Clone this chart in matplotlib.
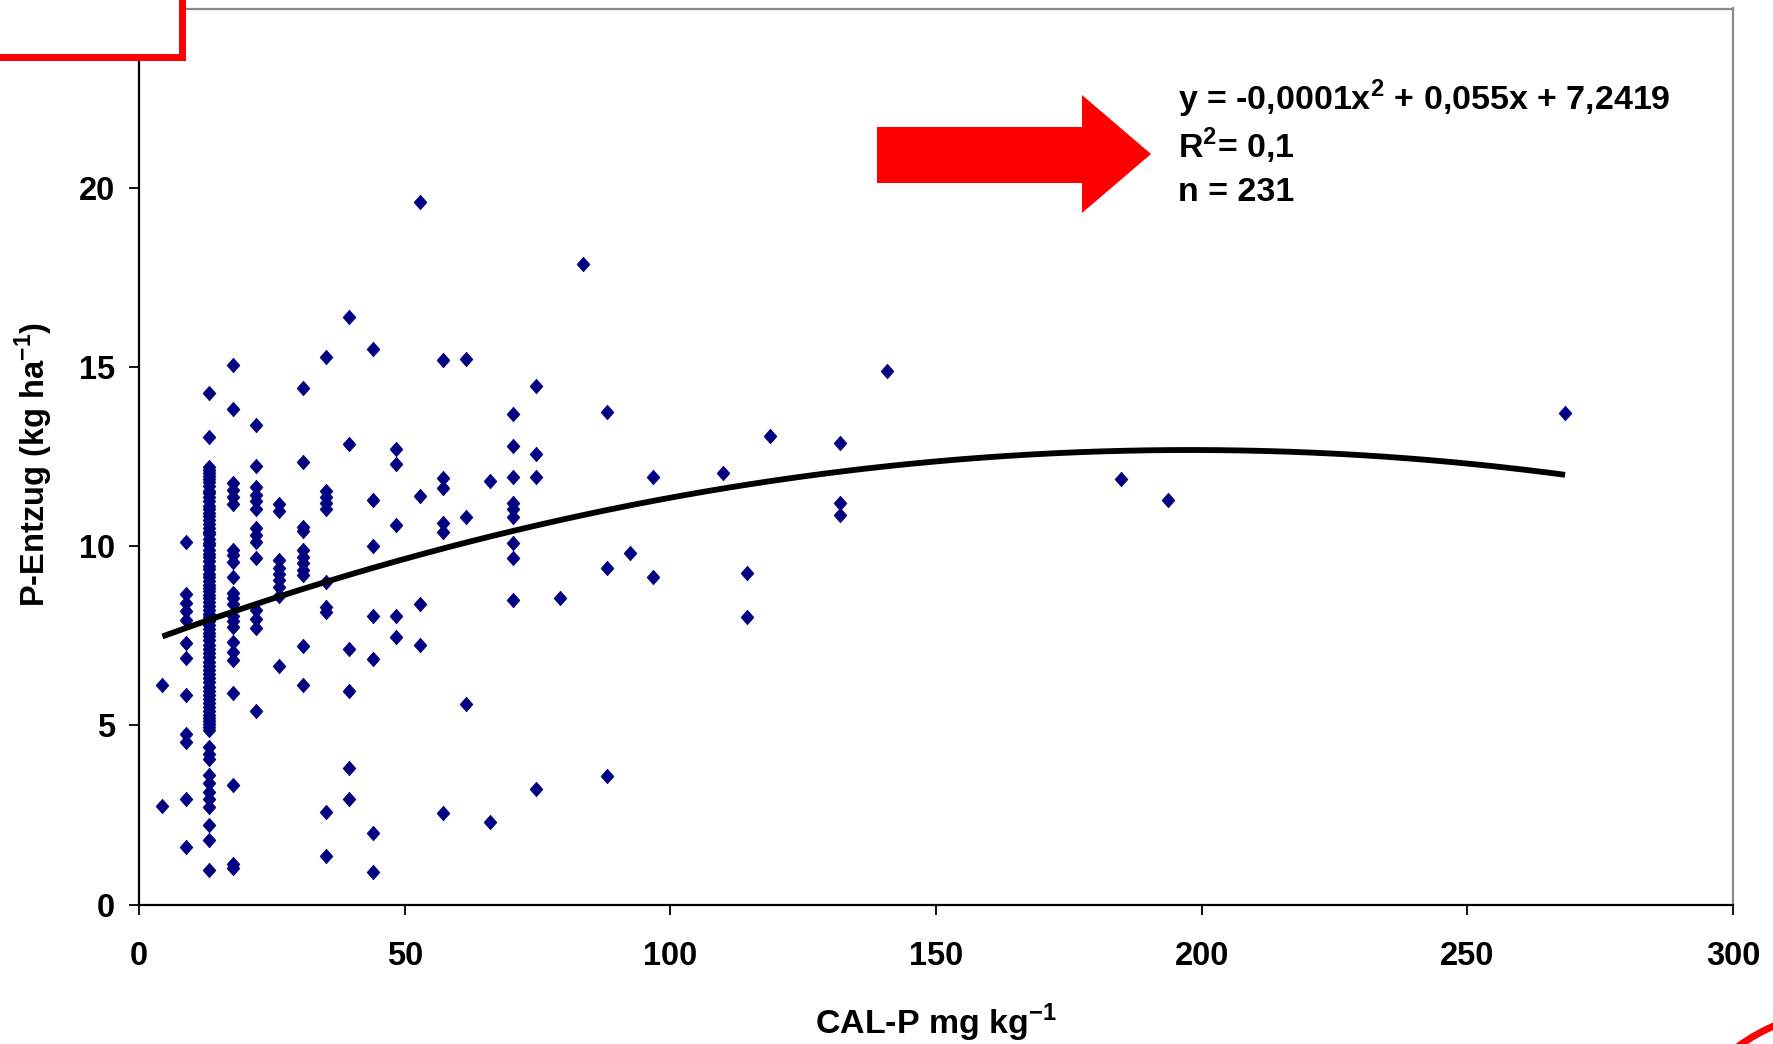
import numpy as np
import matplotlib
matplotlib.use("Agg")
import matplotlib.pyplot as plt
from matplotlib.patches import Polygon, Rectangle, Arc

plt.rcParams['font.family'] = ['Liberation Sans', 'DejaVu Sans']
plt.rcParams['mathtext.fontset'] = 'custom'
plt.rcParams['mathtext.bf'] = 'Liberation Sans:bold'
plt.rcParams['mathtext.rm'] = 'Liberation Sans:bold'

# ---- data -------------------------------------------------------------
# CAL-P classes (mg kg-1) and the P-Entzug values (kg ha-1) observed in each
cal_p_classes = [4.4, 8.8, 13.2, 17.6, 22.0, 26.4, 30.8, 35.2, 39.6, 44.0,
                 48.4, 52.8, 57.2, 61.6, 66.0, 70.4, 74.8, 79.2, 83.6, 88.0,
                 92.4, 96.8, 110.0, 114.4, 118.8, 132.0, 140.8, 184.8, 193.6, 268.4]

p_entzug = [
    [6.14, 2.76],
    [10.12, 8.66, 8.42, 8.2, 7.94, 7.29, 6.87, 5.85, 4.76, 4.54, 2.96, 1.6],
    [14.26, 13.05,
     12.22, 12.12, 12.05, 11.95, 11.86, 11.78, 11.68, 11.55, 11.47, 11.36,
     11.25, 11.12, 11.03, 10.92, 10.85, 10.74, 10.62, 10.51, 10.40, 10.33,
     10.21, 10.10, 10.02, 9.90, 9.78, 9.70, 9.58, 9.45, 9.36, 9.22,
     9.13, 9.02, 8.91, 8.83, 8.74, 8.65, 8.55, 8.44, 8.32, 8.21,
     8.12, 8.03, 7.92, 7.81, 7.70, 7.58, 7.49, 7.37, 7.25, 7.12,
     7.01, 6.90, 6.78, 6.66, 6.55, 6.43, 6.32, 6.20, 6.08, 5.97,
     5.86, 5.74, 5.62, 5.51, 5.40, 5.30, 5.21, 5.12, 5.03, 4.95, 4.87,
     4.4, 4.2, 4.05, 3.61, 3.38, 3.15, 2.96, 2.73, 2.22, 1.8, 0.97],
    [15.05, 13.84, 11.75, 11.57, 11.38, 11.19, 9.89, 9.75, 9.56, 9.15,
     8.68, 8.54, 8.4, 8.05, 7.9, 7.75, 7.33, 7.05, 6.82, 5.91, 3.34, 1.12, 1.03],
    [13.38, 12.23, 11.66, 11.44, 11.25, 11.05, 10.5, 10.3, 10.12, 9.66,
     8.22, 7.98, 7.72, 5.41],
    [11.19, 10.98, 9.6, 9.4, 9.22, 9.05, 8.85, 8.62, 6.66],
    [14.4, 12.35, 10.54, 10.42, 9.89, 9.7, 9.52, 9.33, 9.19, 7.21, 6.14],
    [15.27, 11.55, 11.38, 11.2, 11.03, 9.0, 8.31, 8.15, 2.57, 1.36],
    [16.38, 12.85, 7.12, 5.97, 3.8, 2.96],
    [15.5, 11.3, 10.01, 8.05, 6.84, 1.99, 0.9],
    [12.7, 12.29, 10.6, 8.05, 7.46],
    [19.59, 11.41, 8.38, 7.24],
    [15.19, 11.89, 11.61, 10.64, 10.4, 2.55],
    [15.23, 10.82, 5.61],
    [11.82, 2.3],
    [13.7, 12.8, 11.94, 11.2, 11.05, 10.8, 10.08, 9.66, 8.5],
    [14.47, 12.56, 11.94, 3.22],
    [8.54],
    [17.87],
    [13.73, 9.38, 3.6],
    [9.8],
    [11.94, 9.13],
    [12.05],
    [9.24, 8.01],
    [13.06],
    [12.87, 11.2, 10.88],
    [14.89],
    [11.86],
    [11.29],
    [13.72],
]

# polynomial trend line (2nd order) y = a x^2 + b x + c
trend_a = -0.000139
trend_b = 0.055
trend_c = 7.2419

x_ticks = [0, 50, 100, 150, 200, 250, 300]
y_ticks = [0, 5, 10, 15, 20, 25]
x_label = r"CAL-P mg kg$^{\mathbf{-1}}$"
y_label = r"P-Entzug (kg ha$^{\mathbf{-1}}$)"
eq_lines = [r"y = -0,0001x$^{\mathbf{2}}$ + 0,055x + 7,2419",
            r"R$^{\mathbf{2}}$= 0,1",
            "n = 231"]

# ---- figure -----------------------------------------------------------
W, H = 1773, 1044
fig = plt.figure(figsize=(W / 100, H / 100), dpi=100)
fig.patch.set_facecolor('white')

def fx(px):
    return px / W

def fy(py):
    return 1 - py / H

ax = fig.add_axes([fx(139), fy(904.6), fx(1733) - fx(139), fy(8.5) - fy(904.6)])

xs = np.concatenate([[cx] * len(vals) for cx, vals in zip(cal_p_classes, p_entzug)])
ys = np.concatenate([vals for vals in p_entzug])
diamond = [(0, 1), (0.88, 0), (0, -1), (-0.88, 0), (0, 1)]
ax.plot(xs, ys, linestyle='none', marker=diamond, markersize=10.5,
        markerfacecolor='#000080', markeredgecolor='#000080', markeredgewidth=0.5,
        zorder=3)

xt = np.linspace(min(cal_p_classes), max(cal_p_classes), 300)
ax.plot(xt, trend_a * xt ** 2 + trend_b * xt + trend_c, color='black', lw=4.2,
        solid_capstyle='butt', zorder=4)

ax.set_xlim(0, 300)
ax.set_ylim(0, 25)
ax.set_xticks(x_ticks)
ax.set_yticks(y_ticks)
ax.tick_params(axis='both', direction='out', length=7.5, width=1.3, colors='black',
               labelsize=23.5)
ax.tick_params(axis='x', pad=19)
ax.tick_params(axis='y', pad=10)
for lab in ax.get_xticklabels() + ax.get_yticklabels():
    lab.set_fontweight('bold')

for side in ['left', 'bottom']:
    ax.spines[side].set_color('black')
    ax.spines[side].set_linewidth(1.6)
for side in ['top', 'right']:
    ax.spines[side].set_color('#8a8a8a')
    ax.spines[side].set_linewidth(1.6)

# axis titles
fig.text(fx(936), fy(1023), x_label, ha='center', va='center',
         fontsize=24.5, fontweight='bold')
fig.text(fx(34), fy(464), y_label, ha='center', va='center', rotation=90,
         fontsize=23.5, fontweight='bold')

# equation block
for txt, base in zip(eq_lines, [110, 158, 201]):
    fig.text(fx(1178), fy(base), txt, ha='left', va='baseline',
             fontsize=24.5, fontweight='bold')

# red arrow
arrow_px = [(877, 127), (1082, 127), (1082, 95), (1151, 154),
            (1082, 213), (1082, 183), (877, 183)]
fig.patches.append(Polygon([(fx(a), fy(b)) for a, b in arrow_px], closed=True,
                           facecolor='#ff0000', edgecolor='none',
                           transform=fig.transFigure, zorder=10))

# red framed box in top-left corner
fig.patches.append(Rectangle((fx(-20), fy(56.5)), fx(181.5) - fx(-20), fy(-20) - fy(56.5),
                             facecolor='white', edgecolor='#ff0000', linewidth=5,
                             transform=fig.transFigure, zorder=10))

# red arc fragment in bottom-right corner
fig.patches.append(Arc((fx(1850), fy(1200)), 2 * 190 / W, 2 * 190 / H,
                       theta1=95, theta2=140, color='#ff0000', linewidth=5,
                       transform=fig.transFigure, zorder=10))

fig.savefig('out.png', dpi=100, facecolor='white')
